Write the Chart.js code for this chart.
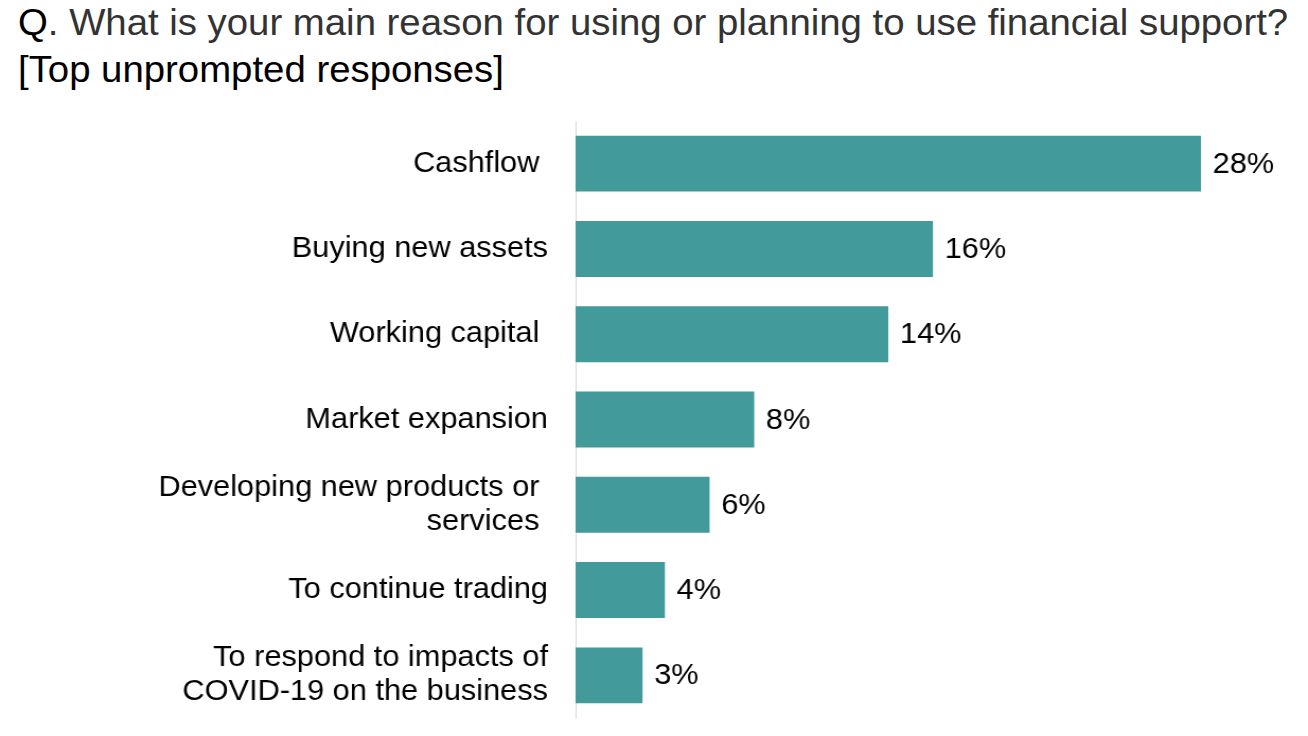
<!DOCTYPE html>
<html>
<head>
<meta charset="utf-8">
<script src="https://cdn.jsdelivr.net/npm/chart.js@4"></script>
<style>
  html, body { margin: 0; padding: 0; background: #fff; overflow: hidden; }
  #wrap { position: relative; width: 1308px; height: 736px; }
  #title {
    position: absolute; left: 18px; top: -1px;
    font-family: "Liberation Sans", Arial, sans-serif;
    font-size: 36px; line-height: 47px; color: #000;
    white-space: nowrap;
    transform: scaleX(1.065); transform-origin: left top;
  }
  #title .q { color: #333; }
  #reasonChart { position: absolute; left: 0; top: 0; }
</style>
</head>
<body>
<div id="wrap">
  <div id="title">Q<span class="q">. What is your main reason for using or planning to use financial support?</span><br>[Top unprompted responses]</div>
  <canvas id="reasonChart" width="1234" height="736" style="width:1308px;height:736px"></canvas>
</div>
<script>
const categories = [
  'Cashflow ',
  'Buying new assets',
  'Working capital ',
  'Market expansion',
  ['Developing new products or ', 'services '],
  'To continue trading',
  ['To respond to impacts of', 'COVID-19 on the business']
];
const shares = [28, 16, 14, 8, 6, 4, 3];
const barColor = '#429a9a';
const fontFamily = '"Liberation Sans", Arial, sans-serif';

// draws the "28%" style labels to the right of each bar
const valueLabels = {
  id: 'valueLabels',
  afterDatasetsDraw(chart) {
    const ctx = chart.ctx;
    const meta = chart.getDatasetMeta(0);
    ctx.save();
    ctx.font = '29px ' + fontFamily;
    ctx.fillStyle = '#000';
    ctx.textAlign = 'left';
    ctx.textBaseline = 'middle';
    meta.data.forEach((bar, i) => {
      ctx.fillText(shares[i] + '%', bar.x + 11, bar.y + 1);
    });
    ctx.restore();
  }
};

// canvas is drawn 1234 wide and shown 1308 wide, like the slightly stretched original
new Chart(document.getElementById('reasonChart'), {
  type: 'bar',
  data: {
    labels: categories,
    datasets: [{ data: shares, backgroundColor: barColor, barPercentage: 0.656, categoryPercentage: 1 }]
  },
  options: {
    indexAxis: 'y',
    responsive: false,
    animation: false,
    devicePixelRatio: 1,
    layout: { padding: { top: 121, bottom: 18, right: 101, left: 0 } },
    plugins: { legend: { display: false }, tooltip: { enabled: false } },
    scales: {
      x: { display: false, min: 0, max: 28 },
      y: {
        afterFit(axis) {
          axis.width = 543;
          axis.paddingTop = 0;
          axis.paddingBottom = 0;
        },
        grid: { display: false, drawTicks: false },
        border: { display: true, color: '#d9d9d9', width: 1 },
        ticks: {
          color: '#000',
          padding: 26,
          font: { family: fontFamily, size: 29, lineHeight: 1.17 }
        }
      }
    }
  },
  plugins: [valueLabels]
});
</script>
</body>
</html>
